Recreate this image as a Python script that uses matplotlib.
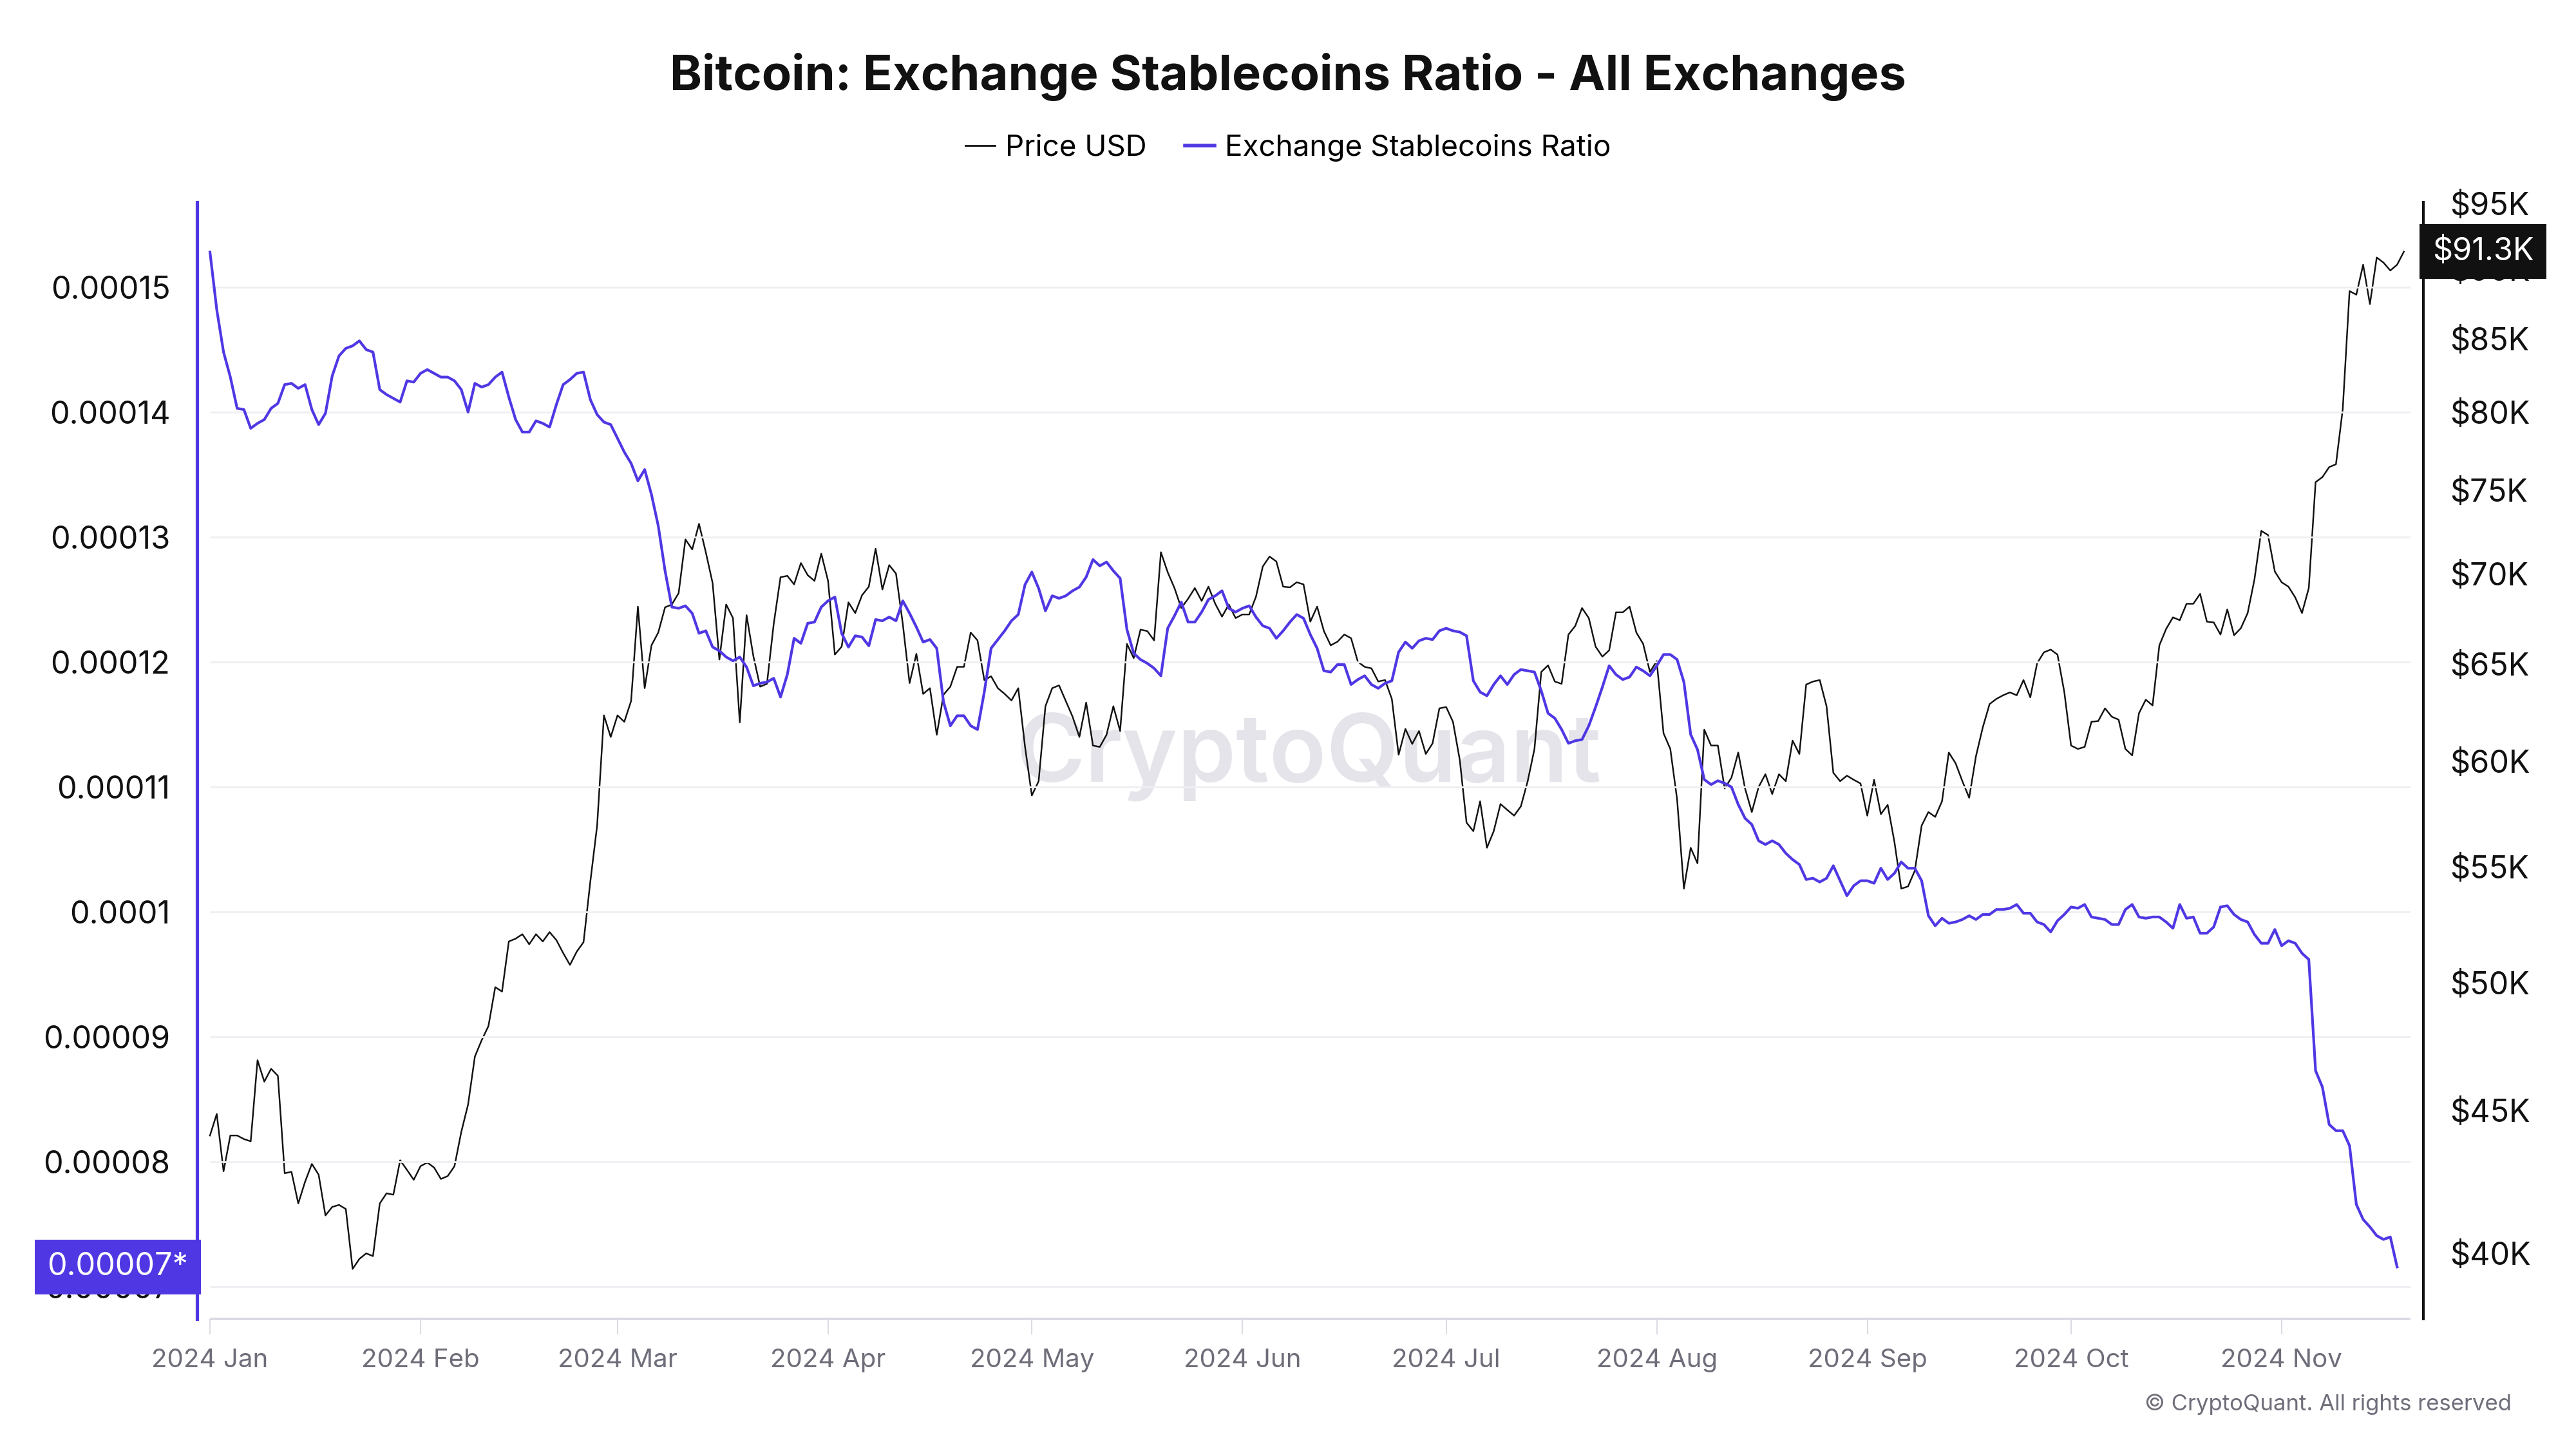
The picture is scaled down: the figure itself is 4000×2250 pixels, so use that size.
import numpy as np
import pandas as pd
import matplotlib
matplotlib.use("Agg")
import matplotlib.pyplot as plt
import matplotlib.dates as mdates
import matplotlib.transforms as mtransforms
from matplotlib.lines import Line2D
from matplotlib.ticker import FixedLocator, NullLocator

plt.rcParams['font.family'] = ['Inter', 'DejaVu Sans']

# ---------------- data ----------------
start_date = "2024-01-01"

# BTC price (thousand USD), daily from 2024-01-01
price_k = [
    44.08, 44.87, 42.80, 44.08, 44.08, 43.95, 43.87, 46.90, 46.08, 46.57,
    46.30, 42.73, 42.78, 41.68, 42.43, 43.06, 42.68, 41.27, 41.56, 41.63,
    41.49, 39.49, 39.82, 40.00, 39.91, 41.68, 42.03, 41.98, 43.19, 42.85,
    42.50, 42.98, 43.11, 42.93, 42.53, 42.63, 42.98, 44.21, 45.22, 47.04,
    47.68, 48.24, 49.81, 49.63, 51.72, 51.84, 52.03, 51.60, 52.03, 51.72,
    52.12, 51.78, 51.23, 50.73, 51.29, 51.69, 54.34, 56.90, 62.31, 61.21,
    62.31, 61.98, 63.05, 68.15, 63.72, 66.01, 66.71, 68.11, 68.27, 68.91,
    72.03, 71.44, 72.96, 71.27, 69.49, 65.24, 68.27, 67.51, 61.95, 67.67,
    65.43, 63.80, 63.95, 67.19, 69.82, 69.90, 69.41, 70.64, 69.94, 69.61,
    71.19, 69.61, 65.51, 65.94, 68.39, 67.79, 68.79, 69.28, 71.48, 69.12,
    70.52, 70.03, 67.19, 63.99, 65.55, 63.42, 63.72, 61.32, 63.38, 63.80,
    64.85, 64.85, 66.71, 66.28, 64.15, 64.35, 63.72, 63.42, 63.08, 63.72,
    60.71, 58.33, 59.02, 62.78, 63.72, 63.87, 63.05, 62.24, 61.21, 62.97,
    60.78, 60.71, 61.32, 62.78, 61.51, 66.09, 65.32, 66.87, 66.79, 66.28,
    71.27, 70.11, 69.20, 68.07, 68.59, 69.20, 68.47, 69.28, 68.31, 67.59,
    68.27, 67.51, 67.71, 67.71, 68.71, 70.44, 71.02, 70.73, 69.28, 69.24,
    69.53, 69.41, 67.31, 68.15, 66.79, 66.01, 66.21, 66.60, 66.40, 65.12,
    64.85, 64.77, 64.07, 64.15, 63.16, 60.32, 61.62, 60.86, 61.51, 60.36,
    60.89, 62.67, 62.74, 61.98, 60.07, 57.04, 56.64, 58.05, 55.87, 56.64,
    57.92, 57.64, 57.37, 57.81, 59.02, 60.61, 64.58, 64.93, 64.07, 63.95,
    66.60, 67.07, 68.07, 67.51, 65.94, 65.40, 65.74, 67.83, 67.83, 68.15,
    66.71, 66.09, 64.58, 65.16, 61.40, 60.61, 58.14, 54.02, 55.87, 55.16,
    61.58, 60.78, 60.78, 58.67, 59.19, 60.43, 58.67, 57.54, 58.74, 59.36,
    58.40, 59.36, 59.02, 61.03, 60.36, 63.91, 64.07, 64.15, 62.78, 59.43,
    59.02, 59.29, 59.09, 58.91, 57.37, 59.09, 57.44, 57.88, 56.13, 54.02,
    54.12, 54.83, 56.90, 57.54, 57.31, 58.05, 60.43, 59.90, 59.02, 58.22,
    60.25, 61.69, 62.89, 63.16, 63.35, 63.50, 63.35, 64.15, 63.24, 65.04,
    65.63, 65.78, 65.51, 63.53, 60.78, 60.61, 60.71, 61.98, 62.02, 62.67,
    62.24, 62.09, 60.61, 60.29, 62.42, 63.12, 62.82, 66.01, 66.91, 67.55,
    67.39, 68.31, 68.31, 68.87, 67.31, 67.27, 66.60, 67.99, 66.56, 66.95,
    67.79, 69.69, 72.54, 72.29, 70.15, 69.53, 69.28, 68.67, 67.79, 69.20,
    75.51, 75.82, 76.45, 76.63, 80.19, 88.38, 88.12, 90.32, 87.44, 90.86,
    90.48, 89.89, 90.32, 91.30,
]

# Exchange stablecoins ratio (x 1e-5), daily from 2024-01-01
ratio_e5 = [
    15.28, 14.82, 14.48, 14.28, 14.03, 14.02, 13.87, 13.91, 13.94, 14.03,
    14.07, 14.22, 14.23, 14.19, 14.22, 14.02, 13.90, 13.99, 14.29, 14.45,
    14.51, 14.53, 14.57, 14.50, 14.48, 14.18, 14.14, 14.11, 14.08, 14.25,
    14.24, 14.31, 14.34, 14.31, 14.28, 14.28, 14.25, 14.18, 14.00, 14.23,
    14.20, 14.22, 14.28, 14.32, 14.12, 13.94, 13.84, 13.84, 13.93, 13.91,
    13.88, 14.06, 14.22, 14.26, 14.31, 14.32, 14.10, 13.98, 13.92, 13.90,
    13.79, 13.68, 13.59, 13.45, 13.54, 13.34, 13.09, 12.73, 12.44, 12.43,
    12.45, 12.39, 12.23, 12.25, 12.12, 12.09, 12.04, 12.01, 12.04, 11.96,
    11.81, 11.83, 11.84, 11.87, 11.72, 11.90, 12.19, 12.15, 12.31, 12.32,
    12.44, 12.49, 12.52, 12.23, 12.12, 12.21, 12.20, 12.13, 12.34, 12.33,
    12.36, 12.33, 12.49, 12.39, 12.28, 12.16, 12.18, 12.11, 11.68, 11.49,
    11.57, 11.57, 11.49, 11.46, 11.76, 12.11, 12.18, 12.25, 12.33, 12.38,
    12.62, 12.72, 12.59, 12.41, 12.53, 12.51, 12.53, 12.57, 12.60, 12.68,
    12.82, 12.77, 12.80, 12.73, 12.67, 12.26, 12.07, 12.02, 11.99, 11.95,
    11.89, 12.27, 12.37, 12.48, 12.32, 12.32, 12.40, 12.50, 12.53, 12.57,
    12.43, 12.40, 12.43, 12.45, 12.36, 12.29, 12.27, 12.19, 12.25, 12.32,
    12.38, 12.35, 12.22, 12.11, 11.93, 11.92, 11.98, 11.98, 11.82, 11.86,
    11.89, 11.82, 11.79, 11.83, 11.85, 12.08, 12.16, 12.11, 12.17, 12.19,
    12.18, 12.25, 12.27, 12.25, 12.24, 12.21, 11.85, 11.76, 11.73, 11.82,
    11.89, 11.82, 11.90, 11.94, 11.93, 11.92, 11.77, 11.59, 11.55, 11.46,
    11.35, 11.37, 11.38, 11.49, 11.64, 11.80, 11.97, 11.90, 11.86, 11.88,
    11.96, 11.93, 11.89, 11.97, 12.06, 12.06, 12.02, 11.84, 11.42, 11.30,
    11.06, 11.02, 11.05, 11.03, 11.00, 10.86, 10.75, 10.70, 10.57, 10.54,
    10.57, 10.54, 10.47, 10.42, 10.38, 10.26, 10.27, 10.24, 10.27, 10.37,
    10.25, 10.13, 10.21, 10.25, 10.25, 10.23, 10.35, 10.26, 10.31, 10.40,
    10.35, 10.35, 10.25, 9.97, 9.89, 9.95, 9.91, 9.92, 9.94, 9.97,
    9.94, 9.98, 9.98, 10.02, 10.02, 10.03, 10.06, 9.99, 9.99, 9.92,
    9.90, 9.84, 9.93, 9.98, 10.04, 10.03, 10.06, 9.96, 9.95, 9.94,
    9.90, 9.90, 10.02, 10.06, 9.96, 9.95, 9.96, 9.96, 9.92, 9.87,
    10.06, 9.95, 9.96, 9.83, 9.83, 9.88, 10.04, 10.05, 9.98, 9.94,
    9.92, 9.82, 9.75, 9.75, 9.86, 9.73, 9.77, 9.75, 9.67, 9.62,
    8.73, 8.60, 8.30, 8.25, 8.25, 8.13, 7.66, 7.54, 7.48, 7.41,
    7.38, 7.40, 7.16,
]

ratio_ticks = [7e-5, 8e-5, 9e-5, 10e-5, 11e-5, 12e-5, 13e-5, 14e-5, 15e-5]
ratio_tick_labels = ["0.00007", "0.00008", "0.00009", "0.0001", "0.00011",
                     "0.00012", "0.00013", "0.00014", "0.00015"]
price_ticks = [40000, 45000, 50000, 55000, 60000, 65000, 70000, 75000,
               80000, 85000, 90000, 95000]
price_tick_labels = ["$40K", "$45K", "$50K", "$55K", "$60K", "$65K", "$70K",
                     "$75K", "$80K", "$85K", "$90K", "$95K"]
month_ticks = pd.date_range("2024-01-01", "2024-11-01", freq="MS")
month_labels = [d.strftime("%Y %b") for d in month_ticks]

title = "Bitcoin: Exchange Stablecoins Ratio - All Exchanges"
series_names = ["Price USD", "Exchange Stablecoins Ratio"]

# ---------------- styling ----------------
PURPLE = "#4f38e4"
BLACK = "#111111"
GREY_TXT = "#6e6e7a"

price = np.array(price_k) * 1000.0
ratio = np.array(ratio_e5) * 1e-5
price_dates = mdates.date2num(pd.date_range(start_date, periods=len(price), freq="D"))
ratio_dates = mdates.date2num(pd.date_range(start_date, periods=len(ratio), freq="D"))
x_start = price_dates[0]
x_end = price_dates[-1] + 1.0

fig = plt.figure(figsize=(16, 9), dpi=250)
fig.patch.set_facecolor("white")
ax = fig.add_axes([0.0765, 0.0896, 0.8642, 0.7709])
ax2 = ax.twinx()
ax.set_zorder(ax2.get_zorder() + 1)
ax.patch.set_visible(False)
ax2.patch.set_visible(False)

ax.set_xlim(x_start - 1.9, x_end + 1.85)
ax.set_ylim(6.742e-5, 1.568e-4)
ax2.set_yscale("log")
ax2.set_ylim(37890, 95100)

# gridlines and x-axis baseline over data span
ax.hlines(ratio_ticks, x_start, x_end, color="#efeff3", lw=0.8, zorder=0)
base_tr = mtransforms.blended_transform_factory(ax.transData, ax.transAxes)
ax.plot([x_start, x_end], [0, 0], transform=base_tr, color="#dadae4",
        lw=1.1, clip_on=False, zorder=1, solid_capstyle="butt")

# lines
ax2.plot(price_dates, price, color=BLACK, lw=0.7, zorder=2)
ax.plot(ratio_dates, ratio, color=PURPLE, lw=1.2, zorder=3)

# spines
for s in ["top", "bottom", "right"]:
    ax.spines[s].set_visible(False)
ax.spines["left"].set_color(PURPLE)
ax.spines["left"].set_linewidth(1.5)
for s in ["top", "bottom", "left"]:
    ax2.spines[s].set_visible(False)
ax2.spines["right"].set_color(BLACK)
ax2.spines["right"].set_linewidth(1.2)

# x ticks
ax.set_xticks(mdates.date2num(month_ticks))
ax.set_xticklabels(month_labels)
ax.tick_params(axis="x", length=7, width=0.6, color="#dcdce4",
               labelcolor=GREY_TXT, labelsize=11.6, pad=6)

# left y ticks
ax.yaxis.set_major_locator(FixedLocator(ratio_ticks))
ax.set_yticklabels(ratio_tick_labels)
ax.tick_params(axis="y", length=0, pad=12, labelsize=14, labelcolor=BLACK)

# right y ticks
ax2.yaxis.set_major_locator(FixedLocator(price_ticks))
ax2.yaxis.set_minor_locator(NullLocator())
ax2.set_yticklabels(price_tick_labels)
ax2.tick_params(axis="y", which="both", length=0, pad=12, labelsize=14,
                labelcolor=BLACK)

# current-value tags (cover the axis labels beneath them, as in the source)
tr_left = mtransforms.blended_transform_factory(ax.transAxes, ax.transData)
ax.text(-0.004, ratio[-1], f"{ratio[-1]:.5f}*", transform=tr_left,
        ha="right", va="center", color="white", fontsize=14, zorder=10,
        bbox=dict(boxstyle="square,pad=0.4", fc=PURPLE, ec="none"), clip_on=False)
tr_right = mtransforms.blended_transform_factory(ax2.transAxes, ax2.transData)
ax2.text(1.004, price[-1], f"${price[-1]/1000:.1f}K", transform=tr_right,
         ha="left", va="center", color="white", fontsize=14, zorder=10,
         bbox=dict(boxstyle="square,pad=0.4", fc=BLACK, ec="none"), clip_on=False)

# title, legend, watermark, copyright
fig.text(0.5, 0.947, title, ha="center", va="center", fontsize=21.8,
         fontweight="bold", color=BLACK)
handles = [Line2D([], [], color=BLACK, lw=0.8), Line2D([], [], color=PURPLE, lw=1.6)]
fig.legend(handles, series_names, loc="center", bbox_to_anchor=(0.5, 0.898),
           ncol=2, frameon=False, fontsize=13.2, handlelength=1.0,
           handletextpad=0.35, columnspacing=1.3)
fig.text(0.508, 0.478, "CryptoQuant", ha="center", va="center", fontsize=42,
         fontweight="semibold", color="#e4e4ea", zorder=-1)
fig.text(0.975, 0.031, "\u00a9 CryptoQuant. All rights reserved", ha="right",
         va="center", fontsize=10, color=GREY_TXT)

fig.savefig("out.png", dpi=250, facecolor="white")
